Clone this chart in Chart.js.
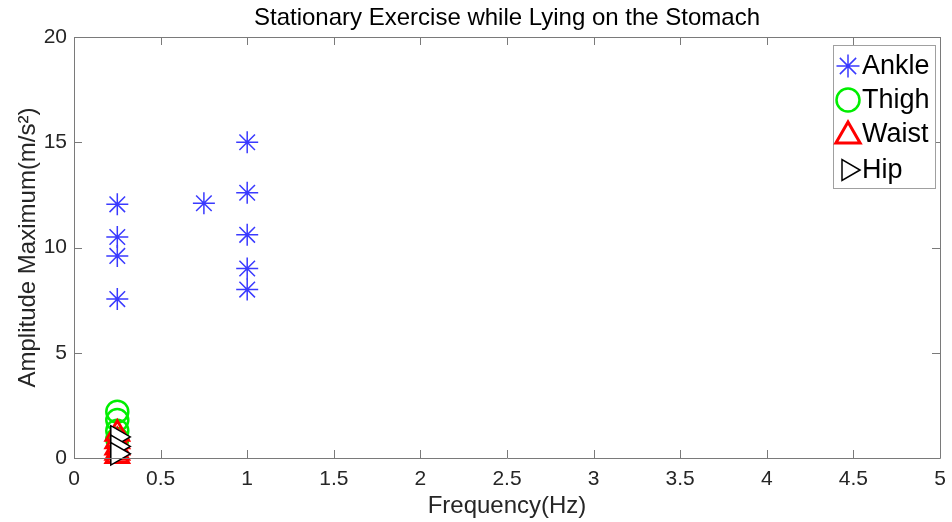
<!DOCTYPE html>
<html>
<head>
<meta charset="utf-8">
<script src="https://cdn.jsdelivr.net/npm/chart.js@4/dist/chart.umd.min.js"></script>
<style>
html,body{margin:0;padding:0;background:#fff;}
canvas{display:block;}
</style>
</head>
<body>
<canvas id="c" width="952" height="522"></canvas>
<script>
// ---- data ----
const seriesNames = ['Ankle', 'Thigh', 'Waist', 'Hip'];
const ankleX = [0.25, 0.25, 0.25, 0.25, 0.75, 1, 1, 1, 1, 1];
const ankleY = [12.05, 10.5, 9.6, 7.55, 12.1, 15.0, 12.6, 10.6, 9.0, 8.0];
const thighX = [0.25, 0.25, 0.25, 0.25];
const thighY = [2.2, 1.8, 1.3, 0.9];
const waistX = [0.25, 0.25, 0.25, 0.25, 0.25];
const waistY = [1.15, 0.8, 0.5, 0.25, 0.1];
const hipX = [0.25, 0.25, 0.25];
const hipY = [1.0, 0.55, 0.2];
const xTicks = [0, 0.5, 1, 1.5, 2, 2.5, 3, 3.5, 4, 4.5, 5];
const yTicks = [0, 5, 10, 15, 20];
const titleText = 'Stationary Exercise while Lying on the Stomach';
const xLabel = 'Frequency(Hz)';
const yLabel = 'Amplitude Maximum(m/s\u00B2)';

const FONT = '"Liberation Sans", Arial, Helvetica, sans-serif';
const pts = (xs, ys) => xs.map((x, i) => ({x: x, y: ys[i]}));

const styles = [
  {pointStyle: 'star', radius: 11, borderColor: '#3a3aff', backgroundColor: 'rgba(0,0,0,0)', borderWidth: 1.5, rotation: 0, order: 3},
  {pointStyle: 'circle', radius: 11, borderColor: '#00ee00', backgroundColor: 'rgba(0,0,0,0)', borderWidth: 2.5, rotation: 0, order: 2},
  {pointStyle: 'triangle', radius: 13, borderColor: '#ff0000', backgroundColor: 'rgba(0,0,0,0)', borderWidth: 3, rotation: 0, order: 1},
  {pointStyle: 'triangle', radius: 13, borderColor: '#000000', backgroundColor: '#ffffff', borderWidth: 1.5, rotation: 90, order: 0}
];
const dataArr = [pts(ankleX, ankleY), pts(thighX, thighY), pts(waistX, waistY), pts(hipX, hipY)];

const datasets = seriesNames.map((n, i) => ({
  label: n,
  data: dataArr[i],
  pointStyle: styles[i].pointStyle,
  pointRadius: styles[i].radius,
  pointHoverRadius: styles[i].radius,
  pointBorderColor: styles[i].borderColor,
  pointBackgroundColor: styles[i].backgroundColor,
  pointBorderWidth: styles[i].borderWidth,
  pointRotation: styles[i].rotation,
  borderColor: styles[i].borderColor,
  backgroundColor: styles[i].backgroundColor,
  showLine: false,
  clip: false,
  order: styles[i].order
}));

function drawMarker(ctx, st, x, y, r) {
  if (Chart.helpers && Chart.helpers.drawPoint) {
    ctx.save();
    ctx.strokeStyle = st.borderColor;
    ctx.fillStyle = st.backgroundColor;
    ctx.lineWidth = st.borderWidth;
    Chart.helpers.drawPoint(ctx, {pointStyle: st.pointStyle, rotation: st.rotation, radius: r, borderWidth: st.borderWidth}, x, y);
    ctx.restore();
  }
}

const boxPlugin = {
  id: 'boxTicks',
  afterDatasetsDraw(chart) {
    const ctx = chart.ctx;
    const a = chart.chartArea;
    const xs = chart.scales.x, ys = chart.scales.y;
    ctx.save();
    // title centred over the plot box
    ctx.fillStyle = '#000000';
    ctx.font = '24px ' + FONT;
    ctx.textAlign = 'center';
    ctx.textBaseline = 'middle';
    ctx.fillText(titleText, (a.left + a.right) / 2, 18);

    ctx.strokeStyle = '#7a7a7a';
    ctx.lineWidth = 1;
    ctx.beginPath();
    ctx.rect(Math.round(a.left) + 0.5, Math.round(a.top) + 0.5, Math.round(a.right - a.left), Math.round(a.bottom - a.top));
    ctx.stroke();
    const tl = 8;
    ctx.beginPath();
    xTicks.forEach(v => {
      const px = Math.round(xs.getPixelForValue(v)) + 0.5;
      ctx.moveTo(px, a.bottom); ctx.lineTo(px, a.bottom - tl);
      ctx.moveTo(px, a.top); ctx.lineTo(px, a.top + tl);
    });
    yTicks.forEach(v => {
      const py = Math.round(ys.getPixelForValue(v)) + 0.5;
      ctx.moveTo(a.left, py); ctx.lineTo(a.left + tl, py);
      ctx.moveTo(a.right, py); ctx.lineTo(a.right - tl, py);
    });
    ctx.stroke();

    // legend box
    const lx = 833, ly = 45, lw = 102, lh = 143;
    ctx.fillStyle = '#ffffff';
    ctx.fillRect(lx, ly, lw, lh);
    ctx.strokeStyle = '#a0a0a0';
    ctx.strokeRect(lx + 0.5, ly + 0.5, lw, lh);
    const rowY = [66, 100, 134, 170];
    const legR = [11.5, 11.5, 14, 12];
    ctx.font = '27px ' + FONT;
    ctx.textBaseline = 'middle';
    ctx.textAlign = 'left';
    seriesNames.forEach((n, i) => {
      const st = styles[i];
      drawMarker(ctx, st, 848, rowY[i] + (i === 2 ? 2 : 0), legR[i]);
      ctx.fillStyle = '#000000';
      ctx.fillText(n, 862, rowY[i] + 1);
    });
    ctx.restore();
  }
};

new Chart(document.getElementById('c'), {
  type: 'scatter',
  data: {datasets: datasets},
  plugins: [boxPlugin],
  options: {
    responsive: false,
    animation: false,
    layout: {autoPadding: false, padding: {left: 0, right: 12, top: 37, bottom: 0}},
    plugins: {
      legend: {display: false},
      tooltip: {enabled: false},
      title: {display: false}
    },
    scales: {
      x: {
        type: 'linear',
        min: 0, max: 5,
        afterFit(s) { s.height = 64; s.paddingRight = 0; s.paddingLeft = 0; },
        afterBuildTicks(s) { s.ticks = xTicks.map(v => ({value: v})); },
        grid: {display: false, drawTicks: false},
        border: {display: false},
        ticks: {
          color: '#262626',
          font: {family: FONT, size: 21},
          padding: 9,
          maxRotation: 0,
          autoSkip: false,
          callback: v => String(v)
        },
        title: {
          display: true, text: xLabel, color: '#262626',
          font: {family: FONT, size: 24, lineHeight: 1.2},
          padding: {top: 0, bottom: 1}
        }
      },
      y: {
        type: 'linear',
        min: 0, max: 20,
        afterFit(s) { s.width = 74; },
        afterBuildTicks(s) { s.ticks = yTicks.map(v => ({value: v})); },
        grid: {display: false, drawTicks: false},
        border: {display: false},
        ticks: {
          color: '#262626',
          font: {family: FONT, size: 21},
          padding: 7,
          autoSkip: false,
          callback: v => String(v)
        },
        title: {
          display: true, text: yLabel, color: '#262626',
          font: {family: FONT, size: 24, lineHeight: 1.2},
          padding: {top: 14, bottom: 0}
        }
      }
    }
  }
});
</script>
</body>
</html>
